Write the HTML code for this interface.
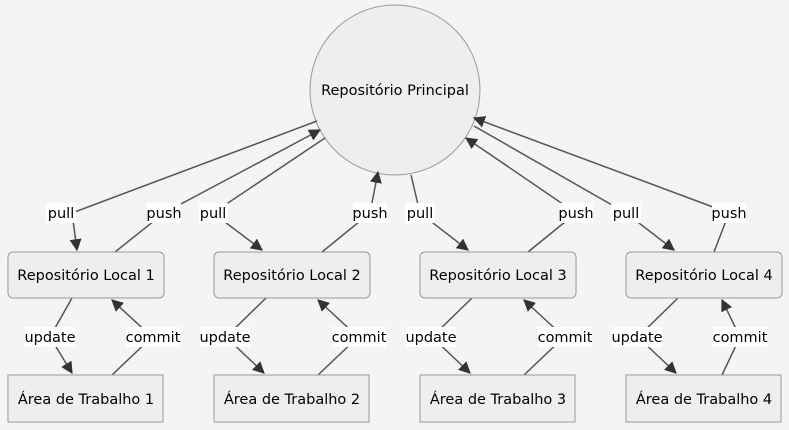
<!DOCTYPE html>
<html><head><meta charset="utf-8"><style>
body{margin:0;background:#f4f4f4;}
svg{display:block;font-family:"DejaVu Sans","Liberation Sans",sans-serif;font-size:14.5px;}
.n{fill:#eee;stroke:#999;stroke-width:1;}
.e{stroke:#555;stroke-width:1.5;fill:none;}
.lb{fill:#fff;}
</style></head><body>
<svg width="789" height="430" viewBox="0 0 789 430">
<defs><marker id="a" viewBox="0 0 10 10" refX="9" refY="5" markerWidth="8" markerHeight="8" orient="auto"><path d="M0,0L10,5L0,10z" fill="#333"/></marker></defs>
<circle class="n" cx="395" cy="90" r="85"/>
<text x="395" y="95" text-anchor="middle">Repositório Principal</text>

<g class="e">
<polyline points="317,121 72,213 77,250" marker-end="url(#a)"/>
<polyline points="115,252 164,213 320,130" marker-end="url(#a)"/>
<polyline points="325,138 213,213 262,250" marker-end="url(#a)"/>
<polyline points="322,252 370,213 378,172" marker-end="url(#a)"/>
<polyline points="411,175 420,213 468,250" marker-end="url(#a)"/>
<polyline points="528,252 576,213 466,138" marker-end="url(#a)"/>
<polyline points="474,126 626,213 674,250" marker-end="url(#a)"/>
<polyline points="714,252 729,213 474,118" marker-end="url(#a)"/>
</g>

<g class="e">
<polyline points="72,298 50,337 72,373" marker-end="url(#a)"/><polyline points="112,375 152,337 112,300" marker-end="url(#a)"/>
<polyline points="266,298 226,337 264,373" marker-end="url(#a)"/><polyline points="318,375 358,337 318,300" marker-end="url(#a)"/>
<polyline points="472,298 432,337 470,373" marker-end="url(#a)"/><polyline points="524,375 564,337 524,300" marker-end="url(#a)"/>
<polyline points="678,298 638,337 676,373" marker-end="url(#a)"/><polyline points="722,375 740,337 722,300" marker-end="url(#a)"/>
</g>

<g>
<rect class="n" x="8" y="252" width="156" height="46" rx="5"/><text x="86" y="280" text-anchor="middle">Repositório Local 1</text>
<rect class="n" x="214" y="252" width="156" height="46" rx="5"/><text x="292" y="280" text-anchor="middle">Repositório Local 2</text>
<rect class="n" x="420" y="252" width="156" height="46" rx="5"/><text x="498" y="280" text-anchor="middle">Repositório Local 3</text>
<rect class="n" x="626" y="252" width="156" height="46" rx="5"/><text x="704" y="280" text-anchor="middle">Repositório Local 4</text>
<rect class="n" x="8" y="375" width="155" height="47"/><text x="86" y="404" text-anchor="middle">Área de Trabalho 1</text>
<rect class="n" x="214" y="375" width="155" height="47"/><text x="292" y="404" text-anchor="middle">Área de Trabalho 2</text>
<rect class="n" x="420" y="375" width="155" height="47"/><text x="498" y="404" text-anchor="middle">Área de Trabalho 3</text>
<rect class="n" x="626" y="375" width="155" height="47"/><text x="704" y="404" text-anchor="middle">Área de Trabalho 4</text>
</g>

<g text-anchor="middle">
<rect class="lb" x="46" y="203" width="30" height="20"/><text x="61" y="218">pull</text>
<rect class="lb" x="147" y="203" width="34" height="20"/><text x="164" y="218">push</text>
<rect class="lb" x="199" y="203" width="29" height="20"/><text x="213" y="218">pull</text>
<rect class="lb" x="353" y="203" width="34" height="20"/><text x="370" y="218">push</text>
<rect class="lb" x="405" y="203" width="30" height="20"/><text x="420" y="218">pull</text>
<rect class="lb" x="559" y="203" width="34" height="20"/><text x="576" y="218">push</text>
<rect class="lb" x="611" y="203" width="30" height="20"/><text x="626" y="218">pull</text>
<rect class="lb" x="712" y="203" width="34" height="20"/><text x="729" y="218">push</text>

<rect class="lb" x="25" y="327" width="50" height="20"/><text x="50" y="342">update</text>
<rect class="lb" x="126" y="327" width="54" height="20"/><text x="153" y="342">commit</text>
<rect class="lb" x="200" y="327" width="50" height="20"/><text x="225" y="342">update</text>
<rect class="lb" x="332" y="327" width="54" height="20"/><text x="359" y="342">commit</text>
<rect class="lb" x="406" y="327" width="50" height="20"/><text x="431" y="342">update</text>
<rect class="lb" x="538" y="327" width="54" height="20"/><text x="565" y="342">commit</text>
<rect class="lb" x="612" y="327" width="50" height="20"/><text x="637" y="342">update</text>
<rect class="lb" x="713" y="327" width="54" height="20"/><text x="740" y="342">commit</text>
</g>
</svg>
</body></html>
